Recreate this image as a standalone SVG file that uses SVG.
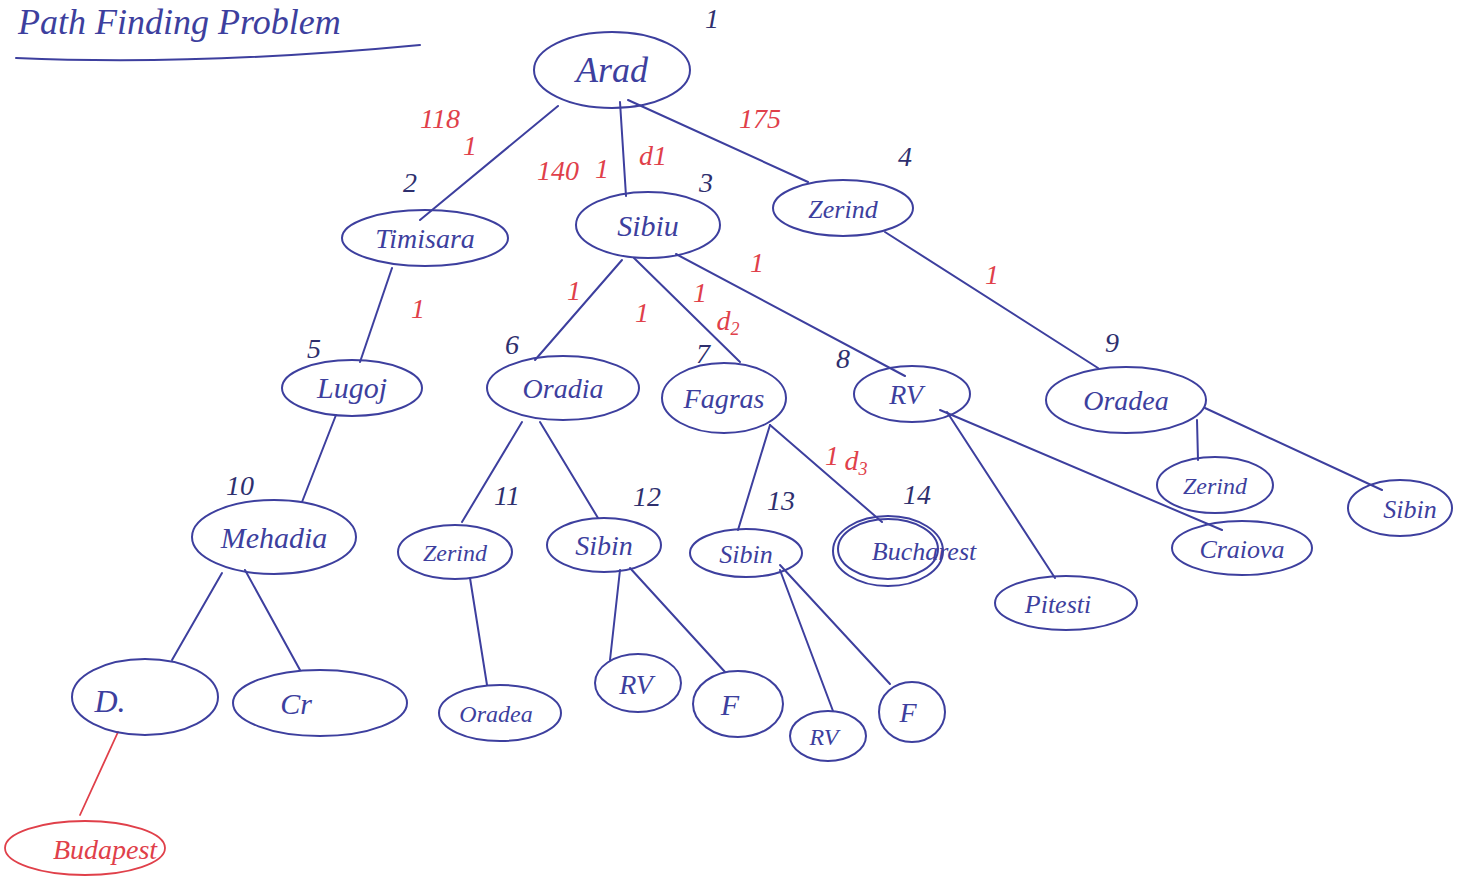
<svg xmlns="http://www.w3.org/2000/svg" width="1470" height="878" viewBox="0 0 1470 878">
  <style>
    .ink { fill: none; stroke: #3d3f9e; stroke-width: 2; stroke-linecap: round; }
    .red { fill: none; stroke: #e0404a; stroke-width: 1.8; stroke-linecap: round; }
    .lbl { font-family: "Liberation Serif", "DejaVu Serif", serif; font-style: italic; fill: #3d3f9e; text-anchor: middle; }
    .num { font-family: "Liberation Serif", "DejaVu Serif", serif; font-style: italic; fill: #2e2f6e; font-size: 28px; text-anchor: middle; }
    .cost { font-family: "Liberation Serif", "DejaVu Serif", serif; font-style: italic; fill: #e0404a; font-size: 28px; text-anchor: middle; }
  </style>
  <rect width="1470" height="878" fill="#ffffff"/>

  <!-- title -->
  <g id="title">
    <text x="18" y="34" class="lbl" style="text-anchor:start" font-size="36">Path Finding Problem</text>
    <path class="ink" d="M16,58 Q200,66 420,45"/>
  </g>

  <!-- connectors -->
  <g id="edges">
    <path class="ink" d="M558,106 L420,220"/>
    <path class="ink" d="M620,102 L626,196"/>
    <path class="ink" d="M628,100 L808,182"/>
    <path class="ink" d="M392,268 L360,362"/>
    <path class="ink" d="M622,260 L535,360"/>
    <path class="ink" d="M634,258 L740,362"/>
    <path class="ink" d="M676,254 L905,376"/>
    <path class="ink" d="M885,232 L1098,368"/>
    <path class="ink" d="M336,415 L302,502"/>
    <path class="ink" d="M522,422 L462,522"/>
    <path class="ink" d="M540,422 L598,518"/>
    <path class="ink" d="M770,425 L738,530"/>
    <path class="ink" d="M770,425 L882,522"/>
    <path class="ink" d="M947,412 L1055,578"/>
    <path class="ink" d="M940,410 L1222,530"/>
    <path class="ink" d="M1197,420 L1198,460"/>
    <path class="ink" d="M1205,408 L1382,490"/>
    <path class="ink" d="M222,573 L172,660"/>
    <path class="ink" d="M245,570 L300,670"/>
    <path class="ink" d="M470,578 L487,685"/>
    <path class="ink" d="M620,570 L610,660"/>
    <path class="ink" d="M630,568 L725,672"/>
    <path class="ink" d="M780,570 L833,711"/>
    <path class="ink" d="M780,565 L890,684"/>
    <path class="red" d="M118,732 L80,815"/>
  </g>

  <!-- edge costs -->
  <g id="costs">
    <text x="440" y="128" class="cost">118</text>
    <text x="470" y="155" class="cost">1</text>
    <text x="558" y="180" class="cost">140</text>
    <text x="602" y="178" class="cost">1</text>
    <text x="653" y="165" class="cost">d1</text>
    <text x="760" y="128" class="cost">175</text>
    <text x="418" y="318" class="cost">1</text>
    <text x="574" y="300" class="cost">1</text>
    <text x="642" y="322" class="cost">1</text>
    <text x="700" y="302" class="cost">1</text>
    <text x="728" y="330" class="cost">d<tspan font-size="18" dy="5">2</tspan></text>
    <text x="757" y="272" class="cost">1</text>
    <text x="992" y="284" class="cost">1</text>
    <text x="832" y="465" class="cost">1</text>
    <text x="856" y="470" class="cost">d<tspan font-size="18" dy="5">3</tspan></text>
  </g>

  <!-- order of expansion -->
  <g id="order">
    <text x="712" y="28" class="num">1</text>
    <text x="410" y="192" class="num">2</text>
    <text x="706" y="192" class="num">3</text>
    <text x="905" y="166" class="num">4</text>
    <text x="314" y="358" class="num">5</text>
    <text x="512" y="354" class="num">6</text>
    <text x="703" y="363" class="num">7</text>
    <text x="843" y="368" class="num">8</text>
    <text x="1112" y="352" class="num">9</text>
    <text x="240" y="495" class="num">10</text>
    <text x="507" y="505" class="num">11</text>
    <text x="647" y="506" class="num">12</text>
    <text x="781" y="510" class="num">13</text>
    <text x="917" y="504" class="num">14</text>
  </g>

  <!-- nodes -->
  <g id="n-arad"><ellipse class="ink" cx="612" cy="70" rx="78" ry="38"/><text x="612" y="82" class="lbl" font-size="36">Arad</text></g>
  <g id="n-timisara"><ellipse class="ink" cx="425" cy="238" rx="83" ry="28"/><text x="425" y="248" class="lbl" font-size="28">Timisara</text></g>
  <g id="n-sibiu"><ellipse class="ink" cx="648" cy="225" rx="72" ry="33"/><text x="648" y="236" class="lbl" font-size="30">Sibiu</text></g>
  <g id="n-zerind"><ellipse class="ink" cx="843" cy="208" rx="70" ry="28"/><text x="843" y="218" class="lbl" font-size="26">Zerind</text></g>
  <g id="n-lugoj"><ellipse class="ink" cx="352" cy="388" rx="70" ry="28"/><text x="352" y="398" class="lbl" font-size="30">Lugoj</text></g>
  <g id="n-oradia"><ellipse class="ink" cx="563" cy="388" rx="76" ry="32"/><text x="563" y="398" class="lbl" font-size="28">Oradia</text></g>
  <g id="n-fagras"><ellipse class="ink" cx="724" cy="398" rx="62" ry="35"/><text x="724" y="408" class="lbl" font-size="28">Fagras</text></g>
  <g id="n-rv"><ellipse class="ink" cx="912" cy="394" rx="58" ry="28"/><text x="906" y="404" class="lbl" font-size="28">RV</text></g>
  <g id="n-oradea"><ellipse class="ink" cx="1126" cy="400" rx="80" ry="33"/><text x="1126" y="410" class="lbl" font-size="28">Oradea</text></g>
  <g id="n-mehadia"><ellipse class="ink" cx="274" cy="537" rx="82" ry="37"/><text x="274" y="548" class="lbl" font-size="30">Mehadia</text></g>
  <g id="n-zerind2"><ellipse class="ink" cx="455" cy="552" rx="57" ry="27"/><text x="455" y="561" class="lbl" font-size="24">Zerind</text></g>
  <g id="n-sibin12"><ellipse class="ink" cx="604" cy="545" rx="57" ry="27"/><text x="604" y="555" class="lbl" font-size="28">Sibin</text></g>
  <g id="n-sibin13"><ellipse class="ink" cx="746" cy="553" rx="56" ry="24"/><text x="746" y="563" class="lbl" font-size="26">Sibin</text></g>
  <g id="n-bucharest">
    <ellipse class="ink" cx="888" cy="551" rx="55" ry="35"/>
    <ellipse class="ink" cx="888" cy="549" rx="50" ry="30"/>
    <text x="924" y="560" class="lbl" font-size="26">Bucharest</text>
  </g>
  <g id="n-zerind3"><ellipse class="ink" cx="1215" cy="485" rx="58" ry="28"/><text x="1215" y="494" class="lbl" font-size="24">Zerind</text></g>
  <g id="n-sibin-r"><ellipse class="ink" cx="1400" cy="508" rx="52" ry="28"/><text x="1410" y="518" class="lbl" font-size="26">Sibin</text></g>
  <g id="n-craiova"><ellipse class="ink" cx="1242" cy="548" rx="70" ry="27"/><text x="1242" y="558" class="lbl" font-size="26">Craiova</text></g>
  <g id="n-pitesti"><ellipse class="ink" cx="1066" cy="603" rx="71" ry="27"/><text x="1058" y="613" class="lbl" font-size="26">Pitesti</text></g>
  <g id="n-d"><ellipse class="ink" cx="145" cy="697" rx="73" ry="38"/><text x="110" y="712" class="lbl" font-size="32">D.</text></g>
  <g id="n-cr"><ellipse class="ink" cx="320" cy="703" rx="87" ry="33"/><text x="296" y="714" class="lbl" font-size="30">Cr</text></g>
  <g id="n-oradea2"><ellipse class="ink" cx="500" cy="713" rx="61" ry="28"/><text x="496" y="722" class="lbl" font-size="24">Oradea</text></g>
  <g id="n-rv2"><ellipse class="ink" cx="638" cy="683" rx="43" ry="29"/><text x="636" y="694" class="lbl" font-size="28">RV</text></g>
  <g id="n-f"><ellipse class="ink" cx="738" cy="704" rx="45" ry="33"/><text x="730" y="715" class="lbl" font-size="30">F</text></g>
  <g id="n-rv3"><ellipse class="ink" cx="828" cy="736" rx="38" ry="25"/><text x="824" y="745" class="lbl" font-size="24">RV</text></g>
  <g id="n-f2"><ellipse class="ink" cx="912" cy="712" rx="33" ry="30"/><text x="908" y="722" class="lbl" font-size="28">F</text></g>
  <g id="n-budapest"><ellipse class="red" cx="85" cy="848" rx="80" ry="27"/><text x="105" y="859" class="cost" font-size="30">Budapest</text></g>
</svg>
